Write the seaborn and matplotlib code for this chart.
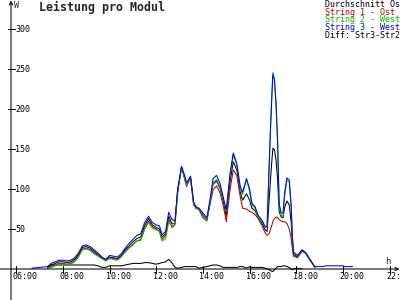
import matplotlib
matplotlib.use("Agg")
import numpy as np
import pandas as pd
import matplotlib.pyplot as plt
import seaborn as sns

# ---------------- data ----------------
times = [
    "06:40", "07:00", "07:20", "07:30", "07:40", "07:50", "08:00", "08:10", "08:20", "08:30",
    "08:40", "08:50", "09:00", "09:10", "09:20", "09:30", "09:40", "09:50", "10:00", "10:10",
    "10:20", "10:30", "10:40", "10:50", "11:00", "11:10", "11:20", "11:30", "11:40", "11:50",
    "12:00", "12:08", "12:15", "12:24", "12:32", "12:40", "12:48", "12:55", "13:05", "13:12",
    "13:18", "13:28", "13:36", "13:42", "13:50", "14:00", "14:10", "14:18", "14:26", "14:35",
    "14:44", "14:52", "15:00", "15:10", "15:18", "15:27", "15:36", "15:42", "15:52", "16:00",
    "16:06", "16:14", "16:22", "16:32", "16:40", "16:45", "16:50", "16:54", "16:58", "17:00",
    "17:04", "17:08", "17:12", "17:16", "17:21", "17:26", "17:30", "17:36", "17:42", "17:47",
    "17:50", "17:53", "18:03", "18:15", "18:24", "18:36", "18:48", "19:10", "19:15", "20:00",
    "20:05", "20:25",
]
nan = np.nan
string3_west = [
    1, 2, 3, 7, 9, 11, 11, 10, 11, 14,
    20, 29, 30, 28, 24, 20, 15, 12, 17, 16,
    15, 19, 26, 32, 37, 42, 44, 58, 66, 58,
    55, 54, 43, 47, 71, 62, 60, 100, 128, 118,
    108, 116, 84, 78, 76, 70, 64, 86, 113, 117,
    107, 90, 74, 120, 145, 132, 103, 96, 113, 100,
    82, 78, 67, 61, 53, 53, 124, 178, 224, 243,
    236, 207, 160, 82, 70, 70, 95, 114, 111, 78,
    40, 21, 17, 24, 20, 11, 3, 3, 4, 4,
    3, 3,
]
string2_west = [
    nan, nan, 1, 2, 4, 6, 6, 5, 6, 9,
    15, 24, 25, 23, 19, 16, 13, 10, 13, 12,
    11, 15, 21, 26, 30, 35, 37, 50, 58, 51,
    49, 47, 35, 38, 59, 54, 58, 99, 126, 115,
    105, 113, 81, 75, 75, 68, 61, 82, 108, 112,
    103, 88, 72, 118, 143, 130, 100, 93, 112, 97,
    80, 76, 65, 59, 52, 53, 125, 180, 227, 246,
    237, 206, 157, 79, 67, 66, 91, 111, 109, 78,
    41, 21, 16, 24, 21, 12, 2, nan, nan, nan,
    nan, nan,
]
string1_ost = [
    nan, nan, 1, 3, 5, 7, 7, 6, 7, 10,
    16, 25, 26, 24, 20, 17, 13, 11, 14, 13,
    12, 16, 22, 27, 31, 35, 36, 50, 60, 53,
    50, 47, 37, 42, 62, 52, 55, 95, 128, 114,
    103, 115, 80, 77, 74, 64, 60, 80, 99, 104,
    95, 80, 59, 100, 124, 117, 90, 76, 75, 72,
    71, 68, 63, 54, 45, 42, 44, 50, 56, 60,
    63, 65, 64, 62, 60, 59, 59, 57, 50, 38,
    26, 16, 14, 22, 20, 11, 2, nan, nan, nan,
    nan, nan,
]
durchschnitt = [
    nan, nan, 2, 5, 7, 9, 9, 8, 9, 12,
    18, 27, 28, 26, 22, 18, 14, 11, 15, 14,
    13, 17, 24, 29, 34, 38, 40, 54, 63, 55,
    52, 50, 40, 44, 66, 57, 57, 97, 128, 116,
    105, 115, 82, 77, 75, 67, 62, 83, 106, 110,
    101, 85, 66, 110, 134, 124, 96, 86, 94, 86,
    76, 73, 65, 57, 49, 47, 84, 114, 140, 151,
    149, 136, 112, 72, 65, 64, 77, 85, 80, 58,
    33, 18, 15, 23, 20, 11, 2, nan, nan, nan,
    nan, nan,
]
diff_str3_str2 = [
    nan, nan, 2, 5, 5, 5, 5, 5, 5, 5,
    5, 5, 5, 5, 5, 4, 2, 2, 4, 4,
    4, 4, 5, 6, 7, 7, 7, 8, 8, 7,
    6, 7, 8, 9, 12, 8, 2, 1, 2, 3,
    3, 3, 3, 3, 1, 2, 3, 4, 5, 5,
    4, 2, 2, 2, 2, 2, 3, 3, 1, 3,
    2, 2, 2, 2, 1, 0, -1, -2, -3, -3,
    -1, 1, 3, 3, 3, 4, 4, 3, 2, 0,
    -1, 0, 1, 0, nan, nan, nan, nan, nan, nan,
    nan, nan,
]
x_ticks = [6, 8, 10, 12, 14, 16, 18, 20, 22]
x_tick_labels = ["06:00", "08:00", "10:00", "12:00", "14:00", "16:00", "18:00", "20:00", "22:00"]
y_ticks = [50, 100, 150, 200, 250, 300]

series = [
    ("Durchschnitt Ost", durchschnitt, "#000000"),
    ("Diff: Str3-Str2", diff_str3_str2, "#000000"),
    ("String 1 - Ost", string1_ost, "#c00000"),
    ("String 2 - West", string2_west, "#00c000"),
    ("String 3 - West", string3_west, "#0000ff"),
]
legend_order = [
    ("Durchschnitt Ost", "#000000"),
    ("String 1 - Ost", "#c00000"),
    ("String 2 - West", "#00c000"),
    ("String 3 - West", "#0000ff"),
    ("Diff: Str3-Str2", "#000000"),
]

hours = [int(t[:2]) + int(t[3:]) / 60 for t in times]

# ---------------- style ----------------
sns.set_style("white")
plt.rcParams['font.family'] = ['DejaVu Sans Mono', 'DejaVu Sans']

fig = plt.figure(figsize=(4, 3), dpi=100)
fig.patch.set_facecolor("white")
ax = fig.add_axes([0, 0, 1, 1])

# pixel helpers for layout (axes fill the figure)
X0, XS = 16.3, 23.33      # px of 06:00, px per hour
Y0, YS = 269.0, 0.8       # px of 0 W, px per W


def xh(px):
    return 6 + (px - X0) / XS


def wv(py):
    return (Y0 - py) / YS


ax.set_xlim(xh(0), xh(400))
ax.set_ylim(wv(300), wv(0))
ax.axis("off")

LW = 0.75

# ---------------- series ----------------
for name, vals, col in series:
    df = pd.DataFrame({"h": hours, "W": vals}).dropna()
    sns.lineplot(data=df, x="h", y="W", color=col, linewidth=LW,
                 estimator=None, sort=False, legend=False, ax=ax)

# ---------------- axes ----------------
ax.annotate("", xy=(xh(399.5), 0), xytext=(xh(0), 0),
            arrowprops=dict(arrowstyle="->", lw=LW, color="black",
                            mutation_scale=6, shrinkA=0, shrinkB=0))
ax.annotate("", xy=(xh(11), wv(0.5)), xytext=(xh(11), wv(300)),
            arrowprops=dict(arrowstyle="->", lw=LW, color="black",
                            mutation_scale=6, shrinkA=0, shrinkB=0))

for t, lab in zip(x_ticks, x_tick_labels):
    ax.plot([t, t], [wv(272.5), wv(265.5)], color="black", lw=LW)
    ax.text(t - 3.5 / XS, wv(276.5), lab, ha="left", va="center", fontsize=6, color="black")

for v in y_ticks:
    ax.plot([xh(7.5), xh(14.5)], [v, v], color="black", lw=LW)
    ax.text(xh(15), v, str(v), ha="left", va="center", fontsize=6, color="black")

ax.text(xh(14), wv(5), "W", ha="left", va="center", fontsize=6)
ax.text(xh(385), wv(261), "h", ha="left", va="center", fontsize=6.5)

ax.text(xh(39), wv(7), "Leistung pro Modul", ha="left", va="center",
        fontsize=8.4, fontweight="bold")

# legend (text only, coloured)
for i, (name, col) in enumerate(legend_order):
    yc = 4.5 + i * 7.75
    fig.text(325 / 400, 1 - yc / 300, name, ha="left", va="center",
             fontsize=6, color=col)

fig.savefig("out.png", dpi=100, facecolor="white")
